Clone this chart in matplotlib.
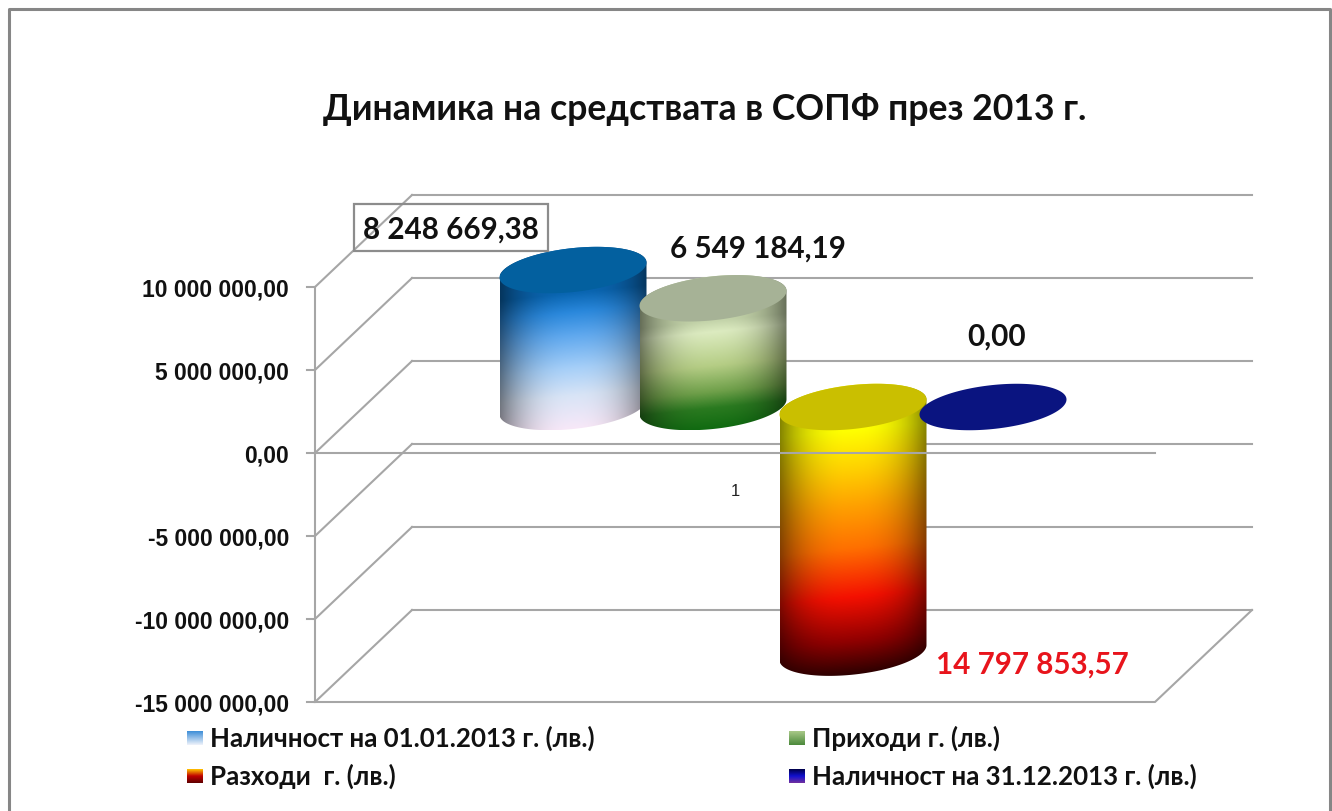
import numpy as np
import matplotlib
matplotlib.use('Agg')
import matplotlib.pyplot as plt
from matplotlib.colors import LinearSegmentedColormap
from matplotlib.patches import Polygon, Rectangle

series_names = ['Наличност на 01.01.2013 г. (лв.)', 'Приходи г. (лв.)',
                'Разходи  г. (лв.)', 'Наличност на 31.12.2013 г. (лв.)']
series_values = [8248669.38, 6549184.19, -14797853.57, 0.0]
value_labels = ['8 248 669,38', '6 549 184,19', '14 797 853,57', '0,00']
tick_values = [10000000, 5000000, 0, -5000000, -10000000, -15000000]
tick_labels = ['10 000 000,00', '5 000 000,00', '0,00', '-5 000 000,00',
               '-10 000 000,00', '-15 000 000,00']
category_label = '1'
title = 'Динамика на средствата в СОПФ през 2013 г.'

W, H = 1332, 811
X_UNIT = 140.0        # px per series step
Y_UNIT = 83.0 / 5e6   # px per lev
X0, Y0 = 573.0, 453.0 # px of series 0 at value 0

DEPTH_X = 97 / X_UNIT
DEPTH_Y = 92 / Y_UNIT
LEFT = (315 - X0) / X_UNIT
RIGHT = (1155 - X0) / X_UNIT
TICK = 8 / X_UNIT

RAD_X = 73.5 / X_UNIT
RAD_Y = 22 / Y_UNIT
SKEW = -7.5 / Y_UNIT
EXT_Y = 23.2 / Y_UNIT

GRID = '#a6a6a6'
bar_stops = [
    [(0, '#0a66b2'), (.14, '#2a88dc'), (.31, '#5fa8ee'), (.55, '#a6cff8'), (.75, '#d8e4f6'), (1, '#f8e8f8')],
    [(0, '#c4d4aa'), (.1, '#dcebc0'), (.41, '#b5cd85'), (.65, '#6fa04a'), (.8, '#2a7a20'), (1, '#0f6a10')],
    [(0, '#ffff00'), (.16, '#ffd000'), (.31, '#ffa000'), (.48, '#ff7000'), (.68, '#f41000'), (.86, '#900000'), (1, '#2a0000')],
    [(0, '#0a1480'), (1, '#0a1480')],
]
top_colors = ['#03609f', '#a6b296', '#cabf00', '#0a1480']
swatch_stops = [['#3f8fd8', '#eef2fa'], ['#a8c888', '#4c8a3c'],
                ['#ffc000', '#c00000', '#600000'], ['#00004a', '#1010d0', '#7030a0']]

plt.rcParams['font.family'] = ['Lato', 'Open Sans', 'DejaVu Sans']
fig = plt.figure(figsize=(W / 100, H / 100), dpi=100, facecolor='white')
ax = fig.add_axes([0, 0, 1, 1])
ax.set_axis_off()


def ellipse(i, yc, t):
    return i + RAD_X * np.cos(t), yc - RAD_Y * np.sin(t) - SKEW * np.cos(t)


def draw_cylinder(i, value, stops, top_color, z):
    base = DEPTH_Y / 2
    top = base + max(value, 0)
    bottom = base + min(value, 0)
    if value != 0:
        tb = np.linspace(np.pi, 0, 80)
        tt = np.linspace(0, -np.pi, 80)
        xb, yb = ellipse(i, bottom, tb)
        xt, yt = ellipse(i, top, tt)
        body = Polygon(np.column_stack([np.r_[xb, xt], np.r_[yb, yt]]), closed=True,
                       transform=ax.transData, facecolor='none', edgecolor='none')
        ax.add_patch(body)
        u = np.linspace(-1, 1, 240)
        yy = np.linspace(bottom - EXT_Y, top + EXT_Y, 400)
        uu, vv = np.meshgrid(u, yy)
        v = (top - EXT_Y - SKEW * uu - vv) / (top - bottom)
        cmap = LinearSegmentedColormap.from_list('bar', stops)
        rgb = cmap(np.clip(v, 0, 1))[:, :, :3]
        shade = 1 - 0.48 * np.abs(uu) ** 2.6
        img = ax.imshow(rgb * shade[:, :, None], extent=[i - RAD_X, i + RAD_X, yy[0], yy[-1]],
                        origin='lower', aspect='auto', interpolation='bilinear', zorder=z)
        img.set_clip_path(body)
    x, y = ellipse(i, top, np.linspace(0, 2 * np.pi, 160))
    ax.fill(x, y, color=top_color, lw=0, zorder=z + 0.1)


# walls and floor
for val in tick_values:
    ax.plot([LEFT - TICK, LEFT, LEFT + DEPTH_X], [val, val, val + DEPTH_Y], color=GRID, lw=1.5, zorder=1)
    ax.plot([LEFT + DEPTH_X, RIGHT + DEPTH_X], [val + DEPTH_Y] * 2, color=GRID, lw=1.5, zorder=1)
ax.plot([LEFT, LEFT], [tick_values[0], tick_values[-1]], color=GRID, lw=1.5, zorder=1)
floor = tick_values[-1]
ax.plot([LEFT, RIGHT, RIGHT + DEPTH_X], [floor, floor, floor + DEPTH_Y], color=GRID, lw=1.5, zorder=1)

for i, val in enumerate(series_values):
    draw_cylinder(i, val, bar_stops[i], top_colors[i], 2 + i)

ax.plot([LEFT, RIGHT], [0, 0], color=GRID, lw=1.5, zorder=8)

for val, lab in zip(tick_values, tick_labels):
    ax.text(LEFT - 26 / X_UNIT, val - 3 / Y_UNIT, lab, ha='right', va='center', fontsize=16.5, fontweight='bold',
            family='Liberation Sans', color='#111111', zorder=9)

ax.set_xlim(-X0 / X_UNIT, (W - X0) / X_UNIT)
ax.set_ylim(-(H - Y0) / Y_UNIT, Y0 / Y_UNIT)

# overlay in pixels for frame, title, labels and legend
ov = fig.add_axes([0, 0, 1, 1], facecolor='none')
ov.set_axis_off()

ov.plot([9, 9, 1329.5, 1329.5], [H, 9, 9, H], color='#868686', lw=2.2)
ov.text(705, 110, title, ha='center', va='center', fontsize=25.7, fontweight='bold', color='#111111')

label_pos = [(451, 230), (758, 249), (1032, 665), (997, 337)]
label_cols = ['#111111', '#111111', '#e8141c', '#111111']
for (x, y), lab, col in zip(label_pos, value_labels, label_cols):
    ov.text(x, y, lab, ha='center', va='center', fontsize=21.3, fontweight='bold', color=col)
ov.add_patch(Rectangle((354, 204), 194, 47, fill=False, edgecolor='#8c8c8c', lw=1.6))
ov.text(735, 491, category_label, ha='center', va='center', fontsize=12, family='Liberation Sans', color='#222222')

legend_pos = [(187, 738), (789, 738), (187, 776), (789, 776)]
for (x, y), name, stops in zip(legend_pos, series_names, swatch_stops):
    cmap = LinearSegmentedColormap.from_list('sw', stops)
    ov.imshow(np.linspace(0, 1, 32)[:, None], cmap=cmap, extent=[x, x + 16, y + 7, y - 7], aspect='auto', zorder=3)
    ov.text(x + 23, y, name, ha='left', va='center', fontsize=18.6, fontweight='bold', color='#111111')

ov.set_xlim(0, W)
ov.set_ylim(H, 0)

fig.savefig('out.png', dpi=100)
